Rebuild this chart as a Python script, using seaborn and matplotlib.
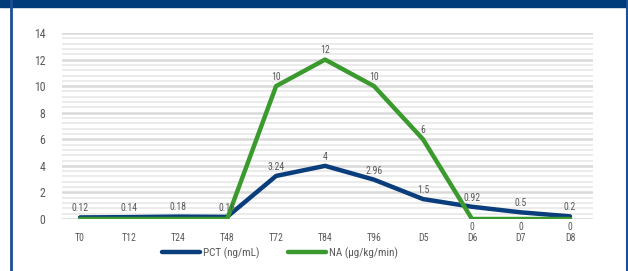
import pandas as pd
import numpy as np
import matplotlib.pyplot as plt
import seaborn as sns
from matplotlib.patches import Rectangle
from matplotlib.lines import Line2D
from matplotlib.ticker import MultipleLocator

# -------------------------------
# Data
# -------------------------------
timepoints = ['T0', 'T12', 'T24', 'T48', 'T72', 'T84', 'T96', 'D5', 'D6', 'D7', 'D8']
pct_values = [0.12, 0.14, 0.18, 0.16, 3.24, 4, 2.96, 1.5, 0.92, 0.5, 0.2]
na_values = [0, 0, 0, 0, 10, 12, 10, 6, 0, 0, 0]
series_names = ['PCT (ng/mL)', 'NA (\u00b5g/kg/min)']
series_colors = ['#0a3d7c', '#3b9a2e']

df = pd.DataFrame({
    'time': timepoints * 2,
    'value': pct_values + na_values,
    'series': [series_names[0]] * len(timepoints) + [series_names[1]] * len(timepoints),
})

# -------------------------------
# Figure setup
# -------------------------------
sns.set_style('white')
plt.rcParams['font.family'] = ['Roboto Condensed', 'DejaVu Sans']
label_color = '#595959'

fig = plt.figure(figsize=(6.28, 2.71), dpi=100)
ax = fig.add_axes([62 / 628, 1 - 219 / 271, (593 - 62) / 628, (219 - 33) / 271])

# frame decoration: dark band at top, thin borders left/right
fig.patches.append(Rectangle((0, 1 - 7 / 271), 1, 7 / 271, transform=fig.transFigure,
                             color='#003b7a', zorder=0))
fig.lines.append(Line2D([11 / 628, 11 / 628], [0, 1], transform=fig.transFigure,
                        color='#1c4f94', lw=2))
fig.lines.append(Line2D([626.5 / 628, 626.5 / 628], [0, 1], transform=fig.transFigure,
                        color='#1c4f94', lw=1.5))

sns.lineplot(data=df, x='time', y='value', hue='series', palette=series_colors,
             hue_order=series_names, linewidth=3.2, sort=False, ax=ax, legend=False)

# -------------------------------
# Axes styling
# -------------------------------
ax.set_ylim(0, 14)
ax.set_xlim(-0.37, 10.47)
ax.yaxis.set_major_locator(MultipleLocator(2))
ax.yaxis.set_minor_locator(MultipleLocator(0.4))
ax.grid(which='major', axis='y', color='#d9d9d9', lw=1.8, zorder=0)
ax.grid(which='minor', axis='y', color='#ebebeb', lw=1.4, zorder=0)
ax.set_axisbelow(True)
for s in ax.spines.values():
    s.set_visible(False)
ax.tick_params(axis='y', length=0, labelsize=8.5, labelcolor=label_color, pad=12)
ax.tick_params(axis='x', length=0, labelsize=7, labelcolor=label_color, pad=10)
ax.tick_params(axis='y', which='minor', length=0)
ax.set_xlabel('')
ax.set_ylabel('')

# data labels
for i, v in enumerate(pct_values):
    ax.annotate(f'{v:g}', (i, v), xytext=(0, 3), textcoords='offset points',
                ha='center', va='bottom', fontsize=7, color=label_color)
for i, v in enumerate(na_values):
    if i < 4:
        continue
    if v == 0:
        ax.annotate(f'{v:g}', (i, v), xytext=(0, -2.5), textcoords='offset points',
                    ha='center', va='top', fontsize=7, color=label_color)
    else:
        ax.annotate(f'{v:g}', (i, v), xytext=(0, 3), textcoords='offset points',
                    ha='center', va='bottom', fontsize=7, color=label_color)

# legend
handles = [Line2D([0], [0], color=c, lw=3.2) for c in series_colors]
fig.legend(handles, series_names, loc='center', bbox_to_anchor=(0.446, 1 - 253 / 271),
           ncol=2, frameon=False, fontsize=8, handlelength=3.4, columnspacing=2.6,
           handletextpad=0.3, labelcolor=label_color)

fig.savefig('out.png', dpi=100)
